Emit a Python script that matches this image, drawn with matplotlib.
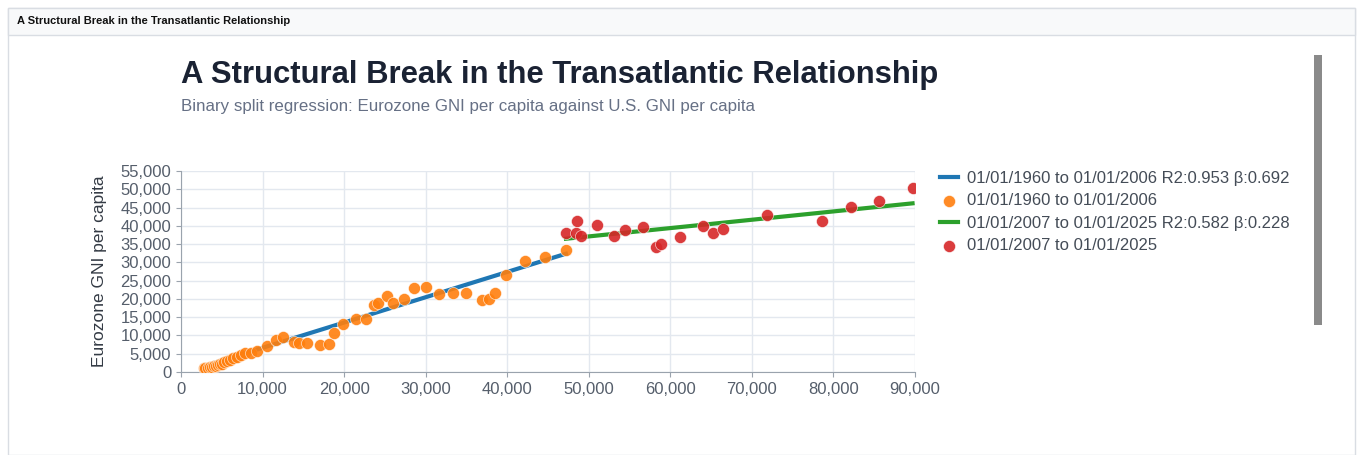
import matplotlib.pyplot as plt
from matplotlib.patches import Rectangle
import numpy as np

plt.rcParams["font.family"] = ["Liberation Sans", "DejaVu Sans"]

# U.S. GNI per capita (x) and Eurozone GNI per capita (y), in dollars
us_early = [2800, 3000, 3250, 3500, 3750, 4000, 4250, 4500, 4750, 5000, 5300, 5600,
            6000, 6400, 6900, 7400, 7900, 8600, 9300,
            10600, 11600, 12500, 13800, 14500, 15400, 17000, 18100, 18800, 19900,
            21500, 22700, 23700, 24200, 25200, 26000, 27300, 28600, 30000, 31600,
            33300, 34900, 36900, 37800, 38500, 39800, 42200, 44600, 47200]
ez_early = [1000, 1100, 1200, 1350, 1500, 1600, 1750, 1900, 2100, 2300, 2600, 2900,
            3300, 3800, 4200, 4600, 5100, 5200, 5800,
            7200, 8700, 9700, 8200, 8000, 7800, 7500, 7700, 10700, 13200,
            14500, 14600, 18300, 18800, 20800, 19000, 20000, 23100, 23200, 21300,
            21600, 21600, 19700, 19900, 21500, 26500, 30400, 31400, 33300]
us_late = [47200, 48500, 48400, 49100, 51000, 53100, 54400, 56600, 58200, 58900,
           61200, 64000, 65200, 66400, 71800, 78600, 82100, 85600, 89700]
ez_late = [38100, 41400, 38100, 37200, 40300, 37200, 38900, 39800, 34100, 35000,
           36900, 40000, 38100, 39100, 43000, 41400, 45100, 46700, 50300]

fit_early = (-300, 0.692)
fit_late = (25700, 0.228)

fig = plt.figure(figsize=(13.63, 4.55), dpi=100)
fig.patch.set_facecolor("white")
# panel frame and header
fig.patches.append(Rectangle((8/1363, 0), 1347/1363, 447/455, transform=fig.transFigure,
                             fill=False, ec="#d9dde3", lw=1))
fig.patches.append(Rectangle((8/1363, 420/455), 1347/1363, 27/455, transform=fig.transFigure,
                             fc="#f8f9fa", ec="#d9dde3", lw=1))
fig.text(17/1363, 434/455, "A Structural Break in the Transatlantic Relationship",
         fontsize=8, fontweight="bold", color="#111111", va="center")
# scrollbar
fig.patches.append(Rectangle((1314/1363, 130/455), 8/1363, 270/455, transform=fig.transFigure,
                             fc="#8a8a8a", ec="none"))

fig.text(181/1363, 380/455, "A Structural Break in the Transatlantic Relationship",
         fontsize=22.3, fontweight="bold", color="#1a2233", va="center")
fig.text(181/1363, 348/455, "Binary split regression: Eurozone GNI per capita against U.S. GNI per capita",
         fontsize=12.2, color="#667085", va="center")

ax = fig.add_axes([181/1363, 83/455, 734/1363, 201/455])
ax.grid(True, color="#e3e8ef", lw=1)
ax.set_axisbelow(True)
for s in ["top", "right"]:
    ax.spines[s].set_visible(False)
for s in ["left", "bottom"]:
    ax.spines[s].set_color("#9aa3ad")

xe = np.array([min(us_early), max(us_early)])
xl = np.array([min(us_late), max(us_late)])
ax.plot(xe, fit_early[0] + fit_early[1] * xe, color="#1f77b4", lw=3,
        label="01/01/1960 to 01/01/2006 R2:0.953 β:0.692")
ax.scatter(us_early, ez_early, s=75, color="#ff7f0e", ec="white", lw=0.4, alpha=0.9,
           label="01/01/1960 to 01/01/2006", zorder=3)
ax.plot(xl, fit_late[0] + fit_late[1] * xl, color="#2ca02c", lw=3,
        label="01/01/2007 to 01/01/2025 R2:0.582 β:0.228")
ax.scatter(us_late, ez_late, s=75, color="#d62728", ec="white", lw=0.4, alpha=0.9,
           label="01/01/2007 to 01/01/2025", zorder=3)

ax.set_xlim(0, 90000)
ax.set_ylim(0, 55000)
ax.set_xticks(range(0, 90001, 10000))
ax.set_yticks(range(0, 55001, 5000))
ax.xaxis.set_major_formatter(lambda v, p: f"{int(v):,}")
ax.yaxis.set_major_formatter(lambda v, p: f"{int(v):,}")
ax.tick_params(labelsize=12, labelcolor="#555e6b", color="#9aa3ad")
ax.set_ylabel("Eurozone GNI per capita", fontsize=12.5, color="#333a44", labelpad=10)

ax.legend(loc="upper left", bbox_to_anchor=(1.025, 1.035), frameon=False, fontsize=12,
          labelcolor="#444c57", handlelength=1.1, handletextpad=0.5,
          borderaxespad=0, labelspacing=0.45)

fig.savefig("out.png", dpi=100)
